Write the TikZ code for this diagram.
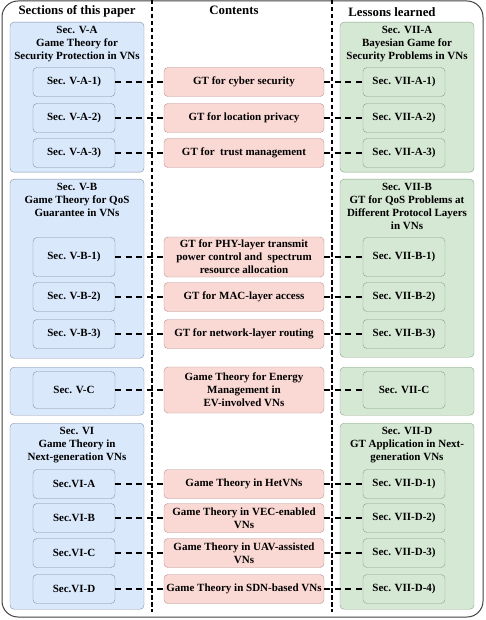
\documentclass[tikz,border=0pt]{standalone}
\usepackage{fontspec}
\setmainfont{Liberation Serif}
\definecolor{secfill}{RGB}{218,232,252}
\definecolor{secline}{RGB}{128,144,168}
\definecolor{gtfill}{RGB}{250,217,213}
\definecolor{gtline}{RGB}{186,146,143}
\definecolor{lsfill}{RGB}{213,232,212}
\definecolor{lsline}{RGB}{138,162,134}
\usetikzlibrary{positioning}

\begin{document}
\begin{tikzpicture}[
  x=1pt, y=-1pt,
  every node/.style={font=\bfseries\fontsize{11}{13}\selectfont, align=center, inner sep=1pt},
  head/.style={font=\bfseries\fontsize{12.8}{15}\selectfont},
  secgrp/.style={draw=secline, fill=secfill, rounded corners=4pt, minimum width=134pt, anchor=north},
  lsgrp/.style={draw=lsline, fill=lsfill, rounded corners=4pt, minimum width=134pt, anchor=north},
  grptitle/.style={anchor=north, inner sep=4.5pt},
  secbox/.style={draw=secline, fill=secfill, rounded corners=4pt, minimum width=82pt, minimum height=29pt},
  lsbox/.style={draw=lsline, fill=lsfill, rounded corners=4pt, minimum width=82pt, minimum height=29pt},
  gtbox/.style={draw=gtline, fill=gtfill, rounded corners=4pt, minimum width=160pt, minimum height=29pt},
  link/.style={line width=1.8pt, dash pattern=on 6pt off 4.5pt},
  colsep/.style={line width=1.4pt, dash pattern=on 4.5pt off 2.5pt}
]
\useasboundingbox (0,0) rectangle (485,620);
\draw[black!75, line width=1pt, rounded corners=16pt] (2,1) rectangle (483,617);

\node[head] (hsec) at (77,11) {Sections of this paper};
\node[head] (hgt) at (234,10) {Contents};
\node[head] (hls) at (392,12) {Lessons learned};

\node[secgrp, minimum height=150pt] (sA) at (77,22) {};
\node[secgrp, minimum height=179pt] (sB) at (77,179) {};
\node[secgrp, minimum height=48pt] (sC) at (77,367) {};
\node[secgrp, minimum height=186pt] (sD) at (77,423) {};
\node[lsgrp, minimum height=150pt] (lA) at (407,22) {};
\node[lsgrp, minimum height=178pt] (lB) at (407,179) {};
\node[lsgrp, minimum height=48pt] (lC) at (407,367) {};
\node[lsgrp, minimum height=186pt] (lD) at (407,423) {};

\node[grptitle] (tA) at (sA.north) {Sec. V-A\\Game Theory for\\Security Protection in VNs};
\node[grptitle] (tB) at (sB.north) {Sec. V-B\\Game Theory for QoS\\Guarantee in VNs};
\node[grptitle] (tD) at (sD.north) {Sec. VI\\Game Theory in\\Next-generation VNs};
\node[grptitle] (uA) at (lA.north) {Sec. VII-A\\Bayesian Game for\\Security Problems in VNs};
\node[grptitle] (uB) at (lB.north) {Sec. VII-B\\GT for QoS Problems at\\Different Protocol Layers\\in VNs};
\node[grptitle] (uD) at (lD.north) {Sec. VII-D\\GT Application in Next-\\generation VNs};

\node[secbox] (a1) at (74,82) {Sec. V-A-1)};
\node[secbox] (a2) at (74,118) {Sec. V-A-2)};
\node[secbox] (a3) at (74,153) {Sec. V-A-3)};
\node[secbox, minimum height=39pt] (b1) at (74,257) {Sec. V-B-1)};
\node[secbox] (b2) at (74,297) {Sec. V-B-2)};
\node[secbox] (b3) at (74,334) {Sec. V-B-3)};
\node[secbox, minimum height=37pt] (c0) at (74,390) {Sec. V-C};
\node[secbox] (d1) at (74,484) {Sec.VI-A};
\node[secbox] (d2) at (74,518) {Sec.VI-B};
\node[secbox] (d3) at (74,553) {Sec.VI-C};
\node[secbox] (d4) at (74,589) {Sec.VI-D};

\node[gtbox] (ga1) at (244,82) {GT for cyber security};
\node[gtbox] (ga2) at (244,118) {GT for location privacy};
\node[gtbox] (ga3) at (244,153) {GT for\ \ trust management};
\node[gtbox, minimum height=40pt] (gb1) at (244,257) {GT for PHY-layer transmit\\power control and\ \ spectrum\\resource allocation};
\node[gtbox] (gb2) at (244,297) {GT for MAC-layer access};
\node[gtbox] (gb3) at (244,334) {GT for network-layer routing};
\node[gtbox, minimum height=46pt] (gc0) at (244,390) {Game Theory for Energy\\Management in\\EV-involved VNs};
\node[gtbox] (gd1) at (244,484) {Game Theory in HetVNs};
\node[gtbox] (gd2) at (244,518) {Game Theory in VEC-enabled\\VNs};
\node[gtbox] (gd3) at (244,553) {Game Theory in UAV-assisted\\VNs};
\node[gtbox] (gd4) at (244,589) {Game Theory in SDN-based VNs};

\node[lsbox] (ra1) at (404,82) {Sec. VII-A-1)};
\node[lsbox] (ra2) at (404,118) {Sec. VII-A-2)};
\node[lsbox] (ra3) at (404,153) {Sec. VII-A-3)};
\node[lsbox, minimum height=39pt] (rb1) at (404,257) {Sec. VII-B-1)};
\node[lsbox] (rb2) at (404,297) {Sec. VII-B-2)};
\node[lsbox] (rb3) at (404,334) {Sec. VII-B-3)};
\node[lsbox, minimum height=37pt] (rc0) at (404,390) {Sec. VII-C};
\node[lsbox] (rd1) at (404,484) {Sec. VII-D-1)};
\node[lsbox] (rd2) at (404,518) {Sec. VII-D-2)};
\node[lsbox] (rd3) at (404,553) {Sec. VII-D-3)};
\node[lsbox] (rd4) at (404,589) {Sec. VII-D-4)};

\coordinate (v1top) at (152,0);
\coordinate (v1bot) at (152,612);
\coordinate (v2top) at (332,0);
\coordinate (v2bot) at (332,612);
\draw[colsep] (v1top) -- (v1bot);
\draw[colsep] (v2top) -- (v2bot);

\draw[link] (a1.east) -- (ga1.west);
\draw[link] (a2.east) -- (ga2.west);
\draw[link] (a3.east) -- (ga3.west);
\draw[link] (b1.east) -- (gb1.west);
\draw[link] (b2.east) -- (gb2.west);
\draw[link] (b3.east) -- (gb3.west);
\draw[link] (c0.east) -- (gc0.west);
\draw[link] (d1.east) -- (gd1.west);
\draw[link] (d2.east) -- (gd2.west);
\draw[link] (d3.east) -- (gd3.west);
\draw[link] (d4.east) -- (gd4.west);
\draw[link] (ga1.east) -- (ra1.west);
\draw[link] (ga2.east) -- (ra2.west);
\draw[link] (ga3.east) -- (ra3.west);
\draw[link] (gb1.east) -- (rb1.west);
\draw[link] (gb2.east) -- (rb2.west);
\draw[link] (gb3.east) -- (rb3.west);
\draw[link] (gc0.east) -- (rc0.west);
\draw[link] (gd1.east) -- (rd1.west);
\draw[link] (gd2.east) -- (rd2.west);
\draw[link] (gd3.east) -- (rd3.west);
\draw[link] (gd4.east) -- (rd4.west);
\end{tikzpicture}
\end{document}
